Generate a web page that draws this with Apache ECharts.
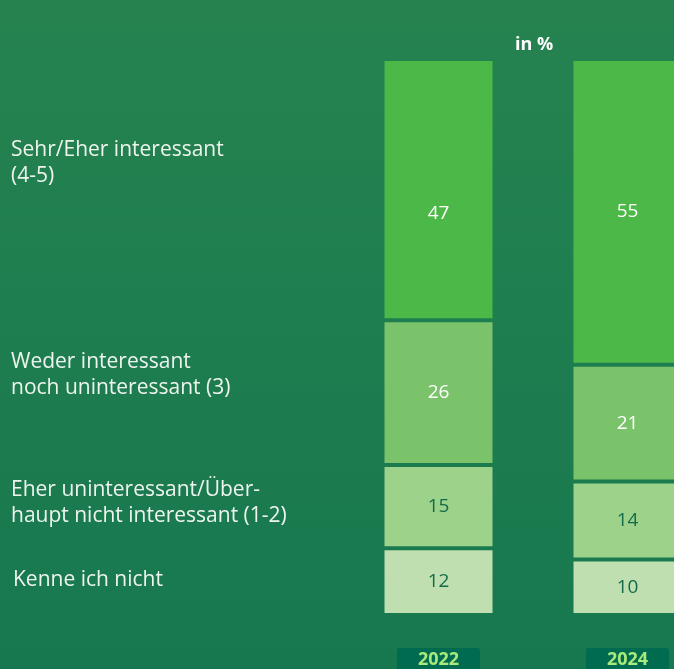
<!DOCTYPE html>
<html>
<head>
<meta charset="utf-8">
<script src="https://cdn.jsdelivr.net/npm/echarts@6/dist/echarts.min.js"></script>
<style>
  html, body { margin: 0; padding: 0; }
  #chart { width: 674px; height: 669px; }
</style>
</head>
<body>
<div id="chart"></div>
<script>
// Jahre (x-Achse)
const years = ['2022', '2024'];
// Antwortkategorien, von unten nach oben gestapelt
const categories = [
  'Kenne ich nicht',
  'Eher uninteressant/Über-\nhaupt nicht interessant (1-2)',
  'Weder interessant\nnoch uninteressant (3)',
  'Sehr/Eher interessant\n(4-5)'
];
// Werte in % je Kategorie (2022, 2024)
const valKenneNicht = [12, 10];
const valUninteressant = [15, 14];
const valWeder = [26, 21];
const valInteressant = [47, 55];

const seriesValues = [valKenneNicht, valUninteressant, valWeder, valInteressant];
const barColors = ['#bfdfb0', '#9dd28a', '#7ac36a', '#4cb848'];
const labelColors = ['#146b4a', '#146b4a', '#ffffff', '#ffffff'];
// y-Position der Beschriftung links
const labelTops = [567, 477, 349, 137];

const chart = echarts.init(document.getElementById('chart'));

// Hintergrundverlauf, auch als Farbe der Fugen zwischen den Segmenten
const bgGradient = () => new echarts.graphic.LinearGradient(0, 0, 0, 669, [
  { offset: 0, color: '#268350' },
  { offset: 1, color: '#17784f' }
], true);

const series = seriesValues.map((vals, i) => ({
  name: categories[i],
  type: 'bar',
  stack: 'total',
  barWidth: 112,
  // die 47 steht im Original etwas tiefer, auf Höhe der 55
  data: vals.map((v, j) => (i === 3 && j === 0)
    ? { value: v, label: { offset: [0, 24] } }
    : v),
  itemStyle: {
    color: barColors[i],
    borderColor: bgGradient(),
    borderWidth: 2
  },
  label: {
    show: true,
    position: 'inside',
    color: labelColors[i],
    fontFamily: 'Open Sans',
    fontSize: 19
  }
}));

const option = {
  backgroundColor: bgGradient(),
  animation: false,
  grid: {
    left: 344,
    top: 59,
    right: -48,
    bottom: 54,
    outerBoundsMode: 'none'
  },
  xAxis: {
    type: 'category',
    data: years,
    axisLine: { show: false },
    axisTick: { show: false },
    axisLabel: {
      margin: 33,
      color: '#a8ea7c',
      fontFamily: 'Open Sans',
      fontWeight: 'bold',
      fontSize: 18,
      lineHeight: 20,
      backgroundColor: '#006b4e',
      borderRadius: 3,
      padding: [2, 21, 4, 21]
    }
  },
  yAxis: {
    type: 'value',
    min: 0,
    max: 100,
    show: false
  },
  graphic: [
    {
      type: 'text',
      left: 515,
      top: 36,
      style: {
        text: 'in %',
        fill: '#ffffff',
        font: 'bold 18px "Open Sans"'
      }
    }
  ].concat(categories.map((c, i) => ({
    type: 'text',
    left: i === 0 ? 13 : 11,
    top: labelTops[i],
    style: {
      text: c,
      fill: '#eef4ee',
      font: '21px "Open Sans"',
      lineHeight: 26
    }
  }))),
  series: series
};

chart.setOption(option);
</script>
</body>
</html>
